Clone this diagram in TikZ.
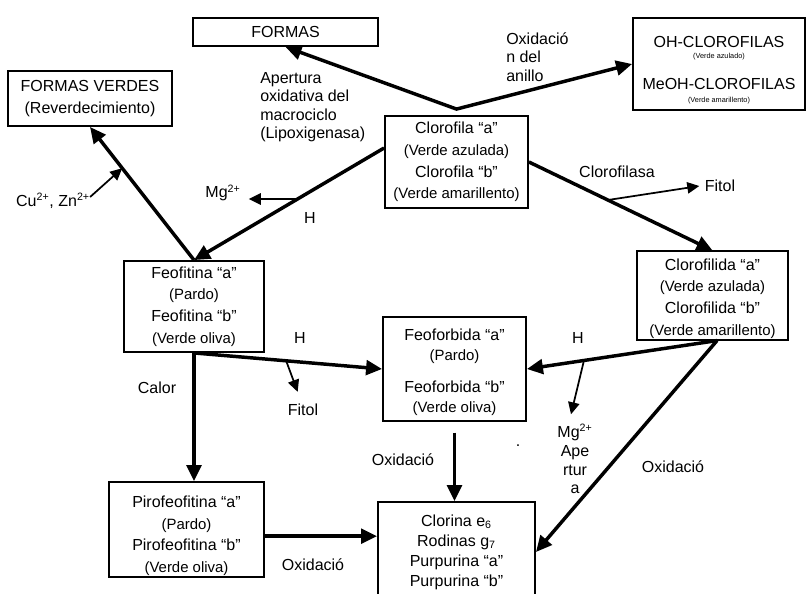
\documentclass[tikz,border=0pt]{standalone}
\usepackage{fontspec}
\setmainfont{Liberation Sans}
\usetikzlibrary{arrows.meta}
\newcommand{\tono}[1]{{\fontsize{11.2}{16}\selectfont #1}}
\newcommand{\diminuto}[1]{{\fontsize{5.5}{7}\selectfont #1}}

\begin{document}
\begin{tikzpicture}[
  x=0.75pt,
  y=-0.75pt,
  every node/.style={text=black},
  box/.style={draw, line width=1.4pt, inner sep=1pt, align=center,
    font=\fontsize{12}{16.3}\selectfont},
  lbl/.style={inner sep=0pt, align=left, font=\fontsize{12}{13.9}\selectfont},
  flow/.style={line width=2.6pt, -{Triangle[length=12pt, width=11pt]}},
  side/.style={line width=1.3pt, -{Triangle[length=9pt, width=8.5pt]}}
]
  % ---- page frame, same size as the scanned figure ----
  \useasboundingbox (0,0) rectangle (807,593);

  % ---- boxes ----
  \node[box, minimum width=138.75pt, minimum height=21pt] (formas) at (285.5,32) {FORMAS};
  \node[box, minimum width=123pt, minimum height=41.25pt] (verdes) at (90,98.5)
    {FORMAS VERDES\\(Reverdecimiento)};
  \node[box, minimum width=129pt, minimum height=69pt, font=\fontsize{12}{14}\selectfont] (ohcl) at (719,64)
    {\rule{0pt}{18pt}OH-CLOROFILAS\\[-6pt]\diminuto{(Verde azulado)}\\[9pt]MeOH-CLOROFILAS\\[-4pt]\diminuto{(Verde amarillento)}};
  \node[box, minimum width=107.25pt, minimum height=69pt] (clorofila) at (456.5,162)
    {Clorofila “a”\\\tono{(Verde azulada)}\\Clorofila “b”\\\tono{(Verde amarillento)}};
  \node[box, minimum width=105pt, minimum height=68.25pt] (feofitina) at (194,306.5)
    {Feofitina “a”\\\tono{(Pardo)}\\Feofitina “b”\\\tono{(Verde oliva)}};
  \node[box, minimum width=113.25pt, minimum height=63.75pt] (clorofilida) at (712.5,295.5)
    {\rule{0pt}{13pt}Clorofilida “a”\\\tono{(Verde azulada)}\\Clorofilida “b”\\\tono{(Verde amarillento)}};
  \node[box, minimum width=107.25pt, minimum height=78pt, font=\fontsize{12}{15}\selectfont] (feoforbida) at (454.5,369)
    {\rule{0pt}{14pt}Feoforbida “a”\\\tono{(Pardo)}\\[9pt]Feoforbida “b”\\\tono{(Verde oliva)}};
  \node[box, minimum width=116.25pt, minimum height=65.25pt] (pirofeo) at (186.5,529.5)
    {\rule{0pt}{18pt}Pirofeofitina “a”\\\tono{(Pardo)}\\Pirofeofitina “b”\\\tono{(Verde oliva)}};
  \node[box, minimum width=117.75pt, minimum height=75pt, font=\fontsize{12}{15}\selectfont] (clorina) at (456.5,552)
    {Clorina e\textsubscript{6}\\Rodinas g\textsubscript{7}\\Purpurina “a”\\Purpurina “b”};

  % ---- labels ----
  \node[lbl, anchor=north west] (apertura) at (260,72)
    {Apertura\\oxidativa del\\macrociclo\\(Lipoxigenasa)};
  \node[lbl, anchor=north west] (oxanillo) at (506,32) {Oxidació\\n del\\anillo};
  \node[lbl] (clorofilasa) at (617,172) {Clorofilasa};
  \node[lbl] (fitola) at (720,186) {Fitol};
  \node[lbl] (mga) at (223,193) {Mg\textsuperscript{2+}};
  \node[lbl] (ha) at (310,218) {H};
  \node[lbl] (cuzn) at (53,201) {Cu\textsuperscript{2+}, Zn\textsuperscript{2+}};
  \node[lbl] (hb) at (300,338) {H};
  \node[lbl] (calor) at (157,388) {Calor};
  \node[lbl] (fitolb) at (303,410) {Fitol};
  \node[lbl] (hc) at (578,338) {H};
  \node[lbl, align=center, font=\fontsize{12}{14.2}\selectfont] (mgb) at (575,459)
    {Mg\textsuperscript{2+}\\Ape\\rtur\\a};
  \node[lbl] (oxa) at (673,467) {Oxidació};
  \node[lbl] (oxb) at (403,460) {Oxidació};
  \node[lbl] (oxc) at (313,565) {Oxidació};
  \node[lbl] (punto) at (518,446) {.};

  % ---- oxidation of the ring / macrocycle ----
  \coordinate (apex) at ([yshift=4.5pt]clorofila.north);
  \draw[flow, {Triangle[length=12pt, width=11pt]}-{Triangle[length=12pt, width=11pt]}]
    (formas.south) -- (apex) -- (ohcl.west);

  % ---- loss of Mg ----
  \draw[flow] ([yshift=10.5pt]clorofila.west) -- (feofitina.north) coordinate[pos=0.455] (mgfork);
  \draw[side] (mgfork) -- ([xshift=6pt]mgfork -| mga.east);
  \draw[flow] (feofitina.north) -- (verdes.south) coordinate[pos=0.69] (cufork);
  \draw[side] ([yshift=3pt]cuzn.east) -- (cufork);

  % ---- clorofilasa ----
  \draw[flow] (clorofila.east) -- (clorofilida.north) coordinate[pos=0.43] (fitfork);
  \draw[side] (fitfork) -- ([xshift=-4pt]fitola.west);
  \draw[flow] ([xshift=3.4pt]clorofilida.south) -- (feoforbida.east) coordinate[pos=0.7] (mgfork2);
  \draw[side] (mgfork2) -- ([xshift=-3pt, yshift=7pt]mgb.north);
  \draw[flow] ([xshift=3.4pt]clorofilida.south) -- (clorina.east);

  % ---- feofitina branch ----
  \draw[flow] (feofitina.south) -- (feoforbida.west) coordinate[pos=0.49] (fitfork2);
  \draw[side] (fitfork2) -- ([xshift=-4pt, yshift=9pt]fitolb.north);
  \draw[flow] (feofitina.south) -- (feofitina.south |- pirofeo.north);

  % ---- towards clorina ----
  \coordinate (pirout) at ([yshift=-5pt]pirofeo.east);
  \draw[flow] (pirout) -- (pirout -| clorina.west);
  \draw[flow] ([yshift=-8pt]feoforbida.south) -- (feoforbida.south |- clorina.north);
\end{tikzpicture}
\end{document}
